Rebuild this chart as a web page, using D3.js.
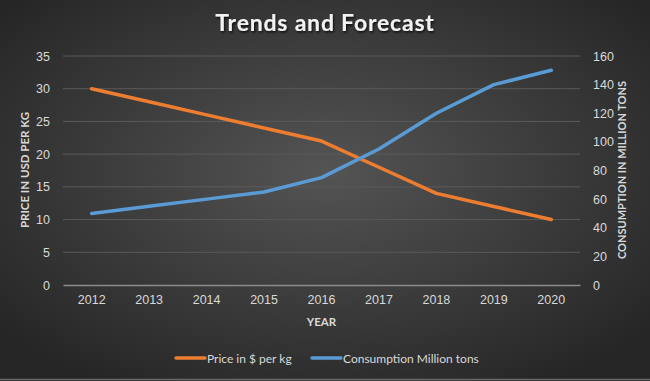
<!DOCTYPE html>
<html>
<head>
<meta charset="utf-8">
<script src="https://cdn.jsdelivr.net/npm/d3@7"></script>
<style>
  body { margin: 0; background: #2b2b2b; }
  svg { display: block; font-family: Lato, "Open Sans", sans-serif; }
</style>
</head>
<body>
<div id="chart"></div>
<script>
const years = ["2012", "2013", "2014", "2015", "2016", "2017", "2018", "2019", "2020"];
const price = [30, 28, 26, 24, 22, 18, 14, 12, 10];
const consumption = [50, 55, 60, 65, 75, 95, 120, 140, 150];
const priceTicks = [0, 5, 10, 15, 20, 25, 30, 35];
const consTicks = [0, 20, 40, 60, 80, 100, 120, 140, 160];

const W = 650, H = 381;
const m = {left: 63, right: 70, top: 56, bottom: 96};

let svg = d3.select("#chart").append("svg")
  .attr("width", W)
  .attr("height", H);

// background
let grad = svg.append("defs").append("radialGradient")
  .attr("id", "bg")
  .attr("cx", "50%").attr("cy", "45%").attr("r", "65%");
grad.append("stop").attr("offset", "0%").attr("stop-color", "#545454");
grad.append("stop").attr("offset", "100%").attr("stop-color", "#262626");

let shadow = svg.select("defs").append("filter").attr("id", "sh")
  .attr("x", "-10%").attr("y", "-30%").attr("width", "120%").attr("height", "160%");
shadow.append("feDropShadow").attr("dx", 1).attr("dy", 1.5)
  .attr("stdDeviation", 1).attr("flood-color", "#000").attr("flood-opacity", 0.8);

svg.append("rect")
  .attr("width", W).attr("height", H)
  .attr("fill", "url(#bg)");

let x = d3.scaleBand()
  .domain(years)
  .range([m.left, W - m.right]);

let yL = d3.scaleLinear()
  .domain([0, 35])
  .range([H - m.bottom, m.top]);

let yR = d3.scaleLinear()
  .domain([0, 160])
  .range([H - m.bottom, m.top]);

// gridlines
svg.append("g")
  .selectAll("line")
  .data(priceTicks.filter(d => d > 0))
  .enter()
  .append("line")
  .attr("x1", m.left).attr("x2", W - m.right)
  .attr("y1", d => yL(d)).attr("y2", d => yL(d))
  .attr("stroke", "#5a5a5a")
  .attr("stroke-width", 1);

// left axis
let gL = svg.append("g")
  .attr("transform", `translate(${m.left},0)`)
  .call(d3.axisLeft(yL).tickValues(priceTicks).tickSize(0).tickPadding(13));
gL.select(".domain").remove();

// right axis
let gR = svg.append("g")
  .attr("transform", `translate(${W - m.right},0)`)
  .call(d3.axisRight(yR).tickValues(consTicks).tickSize(0).tickPadding(13));
gR.select(".domain").remove();

// bottom axis
let gB = svg.append("g")
  .attr("transform", `translate(0,${H - m.bottom})`)
  .call(d3.axisBottom(x).tickSize(0).tickPadding(10));
gB.select(".domain").attr("stroke", "#8c8c8c").attr("stroke-width", 1.5);

svg.selectAll(".tick text")
  .attr("fill", "#d9d9d9")
  .style("font-size", "12.5px");

// lines
let linePrice = d3.line()
  .x((d, i) => x(years[i]) + x.bandwidth() / 2)
  .y(d => yL(d));

let lineCons = d3.line()
  .x((d, i) => x(years[i]) + x.bandwidth() / 2)
  .y(d => yR(d));

svg.append("path")
  .attr("d", linePrice(price))
  .attr("fill", "none")
  .attr("stroke", "#ed7d31")
  .attr("stroke-width", 3.5)
  .attr("stroke-linecap", "round")
  .attr("stroke-linejoin", "round");

svg.append("path")
  .attr("d", lineCons(consumption))
  .attr("fill", "none")
  .attr("stroke", "#5b9bd5")
  .attr("stroke-width", 3.5)
  .attr("stroke-linecap", "round")
  .attr("stroke-linejoin", "round");

// title
svg.append("text")
  .attr("x", W / 2)
  .attr("y", 31)
  .attr("text-anchor", "middle")
  .attr("fill", "#f2f2f2")
  .attr("filter", "url(#sh)")
  .style("font-size", "23px")
  .style("font-weight", "bold")
  .style("letter-spacing", "0.8px")
  .text("Trends and Forecast");

// axis titles
svg.append("text")
  .attr("transform", `translate(29,170) rotate(-90)`)
  .attr("text-anchor", "middle")
  .attr("fill", "#d9d9d9")
  .style("font-size", "11.5px")
  .style("font-weight", "bold")
  .text("PRICE IN USD PER KG");

svg.append("text")
  .attr("transform", `translate(626,170) rotate(-90)`)
  .attr("text-anchor", "middle")
  .attr("fill", "#d9d9d9")
  .style("font-size", "11px")
  .style("font-weight", "bold")
  .text("CONSUMPTION IN MILLION TONS");

svg.append("text")
  .attr("x", (m.left + W - m.right) / 2)
  .attr("y", 326)
  .attr("text-anchor", "middle")
  .attr("fill", "#d9d9d9")
  .style("font-size", "11.5px")
  .style("font-weight", "bold")
  .text("YEAR");

// legend
let legend = [
  {name: "Price in $ per kg", color: "#ed7d31", x: 176},
  {name: "Consumption Million tons", color: "#5b9bd5", x: 312}
];

let lg = svg.selectAll(".lg")
  .data(legend)
  .enter()
  .append("g")
  .attr("transform", d => `translate(${d.x},358)`);

lg.append("line")
  .attr("x1", 0).attr("x2", 29)
  .attr("stroke", d => d.color)
  .attr("stroke-width", 3.5)
  .attr("stroke-linecap", "round");

lg.append("text")
  .attr("x", 31)
  .attr("y", 4.5)
  .attr("fill", "#d9d9d9")
  .style("font-size", "12px")
  .text(d => d.name);

// bottom edge
svg.append("line")
  .attr("x1", 0).attr("x2", W)
  .attr("y1", H - 1.5).attr("y2", H - 1.5)
  .attr("stroke", "#6a6a6a")
  .attr("stroke-width", 1.5);
</script>
</body>
</html>
